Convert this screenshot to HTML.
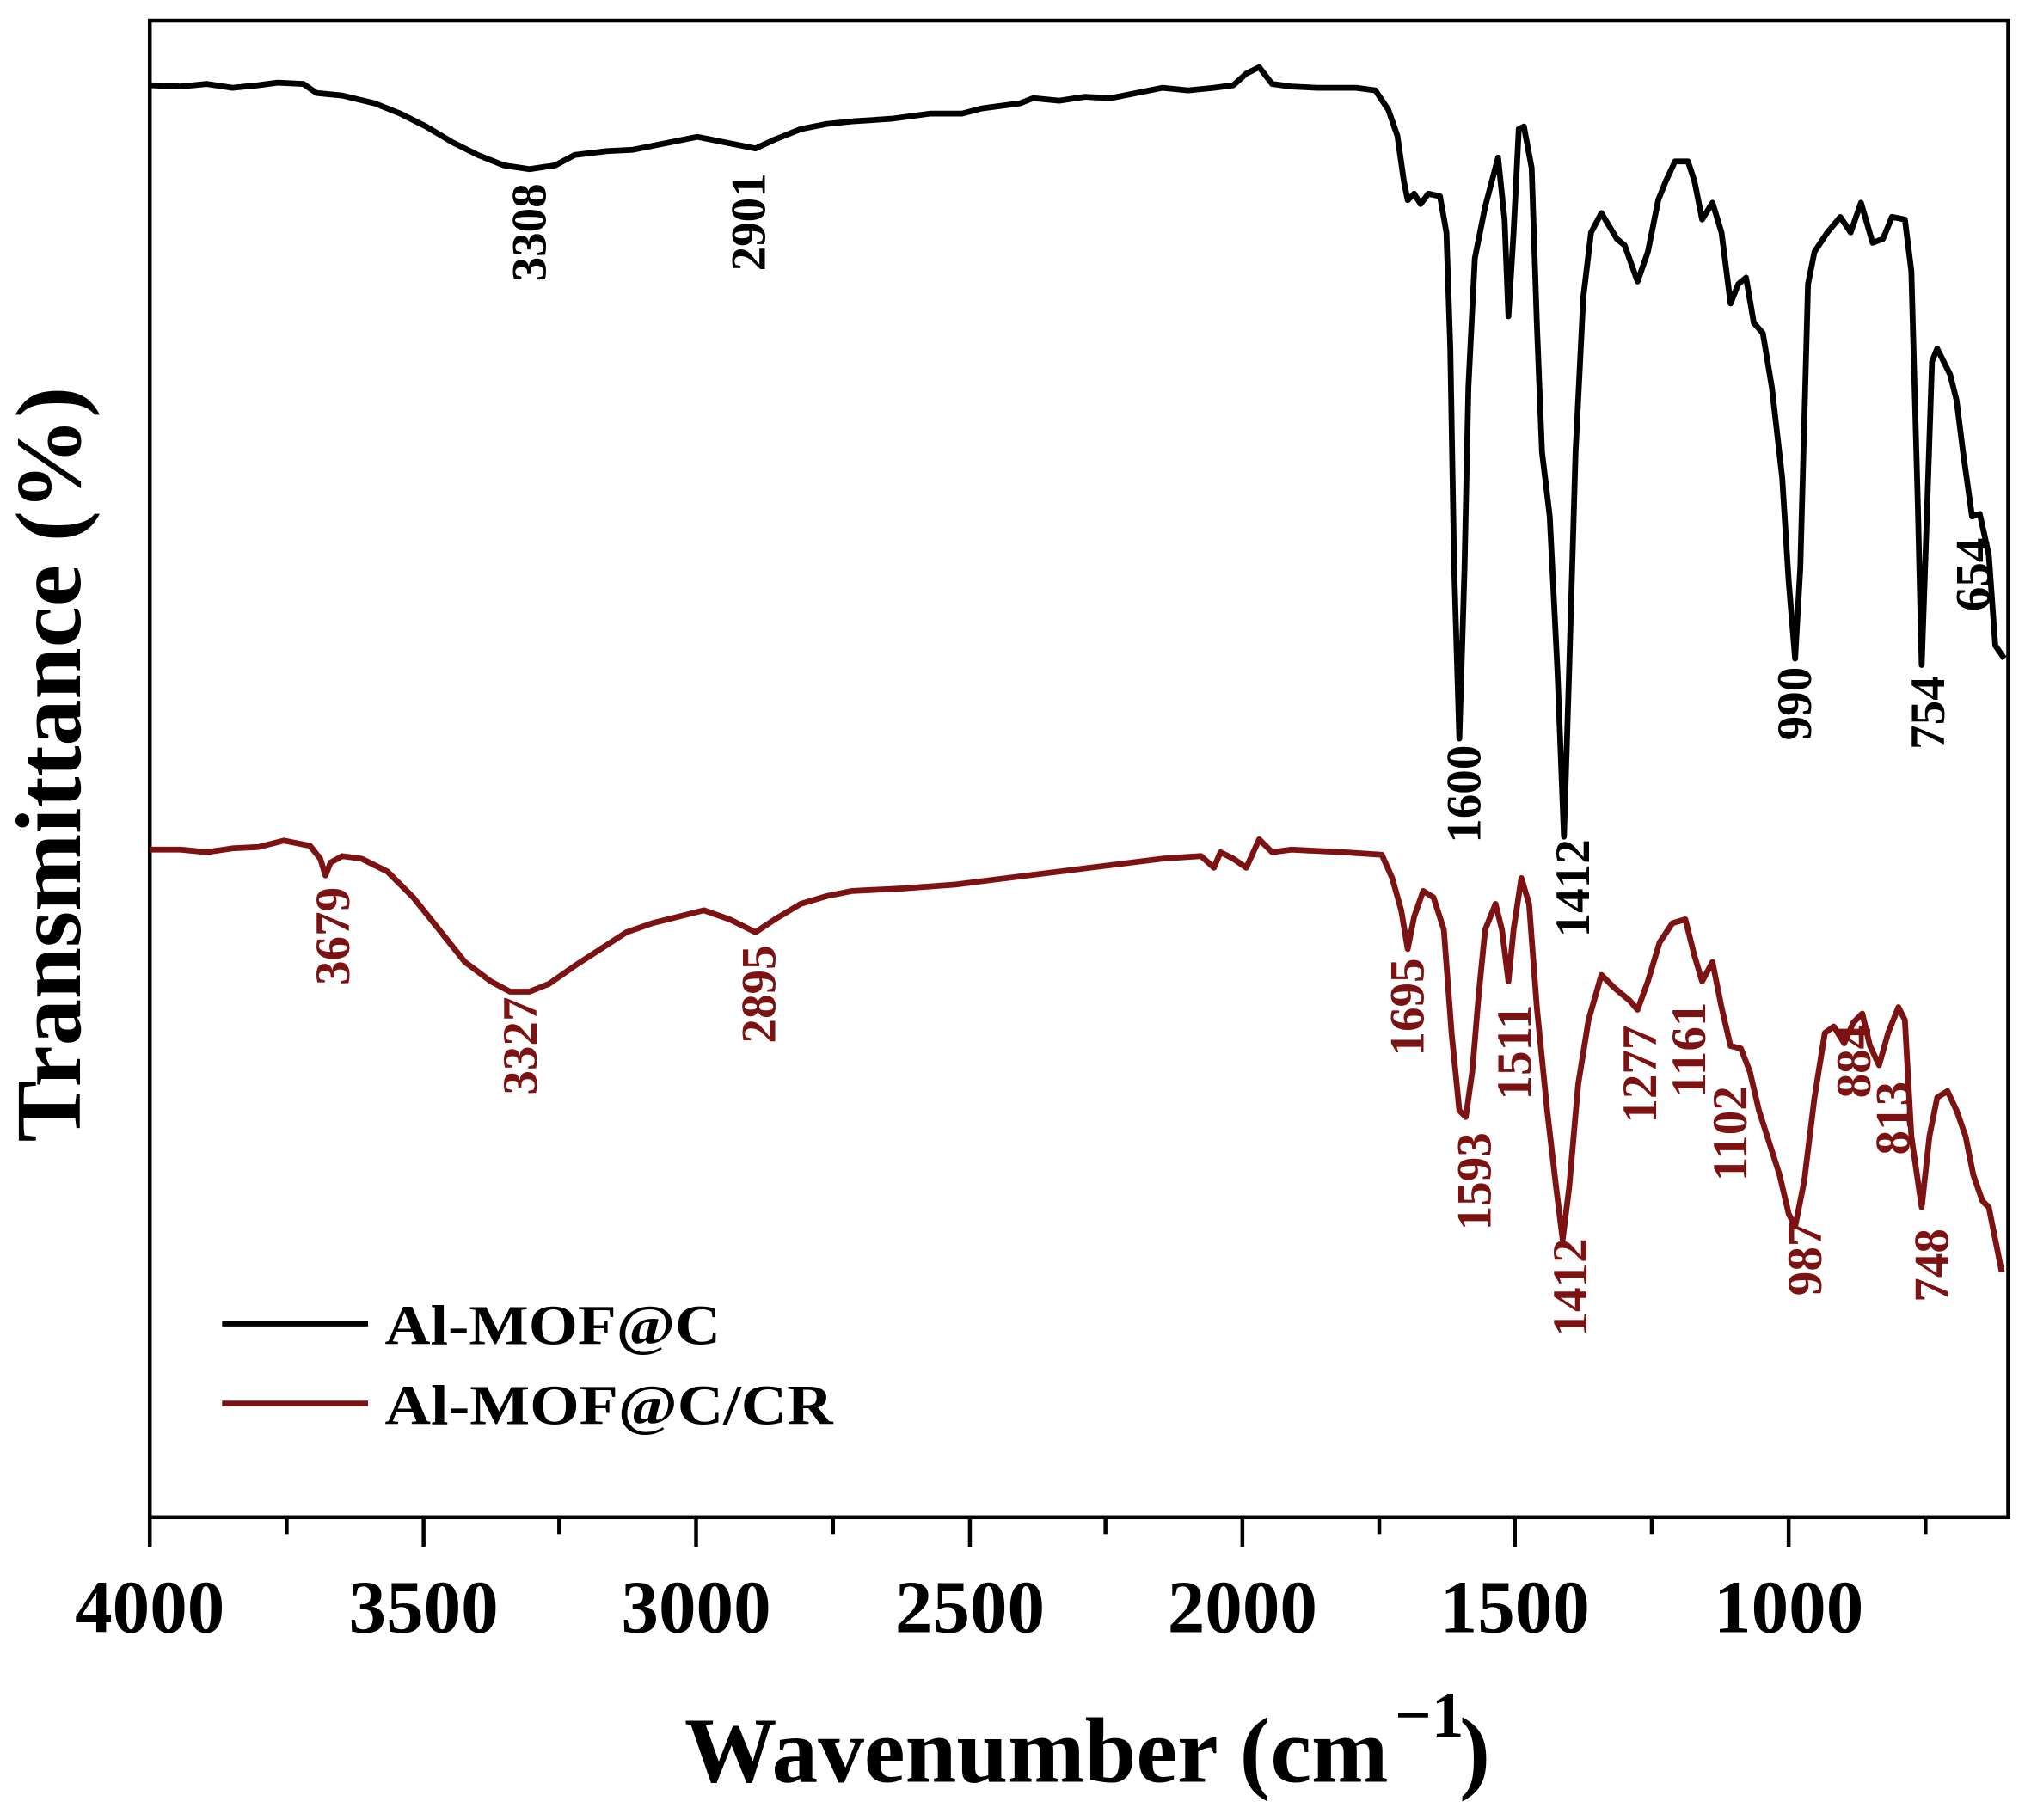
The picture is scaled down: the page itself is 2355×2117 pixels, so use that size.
<!DOCTYPE html>
<html><head><meta charset="utf-8"><style>html,body{margin:0;padding:0;background:#fff}svg{display:block}</style></head>
<body>
<svg width="2355" height="2117" viewBox="0 0 1568 1409.5" preserveAspectRatio="none" xmlns="http://www.w3.org/2000/svg" font-family="Liberation Serif, serif" font-weight="bold">
<rect x="0" y="0" width="1568" height="1409.5" fill="#fff"/>
<rect x="116" y="16" width="1439" height="1159" fill="none" stroke="#000" stroke-width="3"/>
<g stroke="#000" stroke-width="3">
<line x1="116" y1="1175" x2="116" y2="1198"/><line x1="222" y1="1175" x2="222" y2="1188"/>
<line x1="328" y1="1175" x2="328" y2="1198"/><line x1="433" y1="1175" x2="433" y2="1188"/>
<line x1="539" y1="1175" x2="539" y2="1198"/><line x1="645" y1="1175" x2="645" y2="1188"/>
<line x1="751" y1="1175" x2="751" y2="1198"/><line x1="856" y1="1175" x2="856" y2="1188"/>
<line x1="962" y1="1175" x2="962" y2="1198"/><line x1="1068" y1="1175" x2="1068" y2="1188"/>
<line x1="1173" y1="1175" x2="1173" y2="1198"/><line x1="1279" y1="1175" x2="1279" y2="1188"/>
<line x1="1385" y1="1175" x2="1385" y2="1198"/><line x1="1491" y1="1175" x2="1491" y2="1188"/>
</g>
<g font-size="58" text-anchor="middle" fill="#000">
<text x="116" y="1264">4000</text><text x="328" y="1264">3500</text><text x="539" y="1264">3000</text>
<text x="751" y="1264">2500</text><text x="962" y="1264">2000</text><text x="1173" y="1264">1500</text>
<text x="1385" y="1264">1000</text>
</g>
<text x="530" y="1380" font-size="72" textLength="545" lengthAdjust="spacingAndGlyphs">Wavenumber (cm</text>
<text x="1080" y="1345" font-size="50">−1</text>
<text x="1130" y="1380" font-size="72">)</text>
<text transform="translate(62,592) rotate(-90)" font-size="72" text-anchor="middle" textLength="585" lengthAdjust="spacingAndGlyphs">Transmittance (%)</text>
<path fill="none" stroke="#000" stroke-width="4.5" stroke-linejoin="round" d="M116,66 L140,67 160,65 180,68 200,66 215,64 235,65 245,72 265,74 290,80 310,88 330,98 350,110 370,120 390,128 410,131 430,128 445,120 470,117 490,116 510,112 540,106 560,110 585,115 600,108 620,100 640,96 660,94 690,92 720,88 745,88 760,84 790,80 800,76 820,78 840,75 860,76 880,72 900,68 920,70 940,68 955,66 965,57 975,52 985,65 1000,67 1020,68 1050,68 1065,70 1075,85 1082,105 1087,140 1090,155 1095,150 1100,158 1106,150 1115,152 1120,180 1123,270 1126,440 1130,572 1134,440 1137,300 1142,200 1150,160 1160,122 1165,170 1168,245 1172,180 1176,100 1180,98 1186,130 1190,250 1194,350 1200,400 1206,520 1211,648 1215,520 1220,350 1226,230 1232,180 1240,165 1246,175 1252,185 1258,190 1268,218 1276,195 1284,155 1290,140 1297,125 1307,125 1312,140 1318,170 1326,157 1333,180 1340,235 1346,220 1352,215 1358,250 1365,258 1372,300 1380,370 1385,450 1390,510 1394,440 1400,220 1405,195 1415,180 1425,168 1433,180 1441,157 1450,188 1458,185 1465,168 1475,170 1480,210 1485,390 1488,515 1492,400 1496,280 1500,270 1510,290 1515,310 1520,350 1527,400 1533,398 1540,430 1545,500 1552,510"/>
<path fill="none" stroke="#7d1212" stroke-width="4.5" stroke-linejoin="round" d="M116,658 L140,658 160,660 180,657 200,656 220,651 240,655 248,665 252,678 256,668 265,663 280,665 300,675 320,695 340,720 360,745 380,760 395,768 410,768 425,762 445,748 465,735 485,722 505,715 525,710 545,705 565,712 585,722 600,712 620,700 640,694 660,690 700,688 740,685 780,680 820,675 860,670 900,665 930,663 940,672 945,660 955,665 965,672 975,650 985,660 1000,658 1040,660 1070,662 1078,680 1085,705 1090,735 1095,710 1102,690 1110,695 1118,720 1124,800 1130,860 1135,865 1140,830 1145,770 1150,720 1158,700 1163,720 1168,760 1172,720 1178,680 1184,700 1190,780 1198,860 1205,920 1210,960 1215,920 1222,840 1230,790 1240,755 1250,765 1262,775 1268,782 1276,760 1285,730 1295,715 1305,712 1312,740 1318,760 1326,745 1333,780 1340,810 1348,812 1355,830 1362,860 1370,885 1378,910 1385,940 1390,950 1397,915 1405,850 1413,800 1420,795 1428,808 1435,792 1442,785 1448,810 1455,825 1462,800 1470,780 1475,790 1480,880 1488,935 1494,880 1500,850 1508,845 1515,860 1522,880 1528,910 1535,930 1540,935 1545,960 1550,985"/>
<g font-size="38" fill="#000" text-anchor="middle" dominant-baseline="central">
<text transform="translate(410,180) rotate(-90)">3308</text>
<text transform="translate(580,172) rotate(-90)">2901</text>
<text transform="translate(1134,615) rotate(-90)">1600</text>
<text transform="translate(1218,688) rotate(-90)">1412</text>
<text transform="translate(1390,545) rotate(-90)">990</text>
<text transform="translate(1493,552) rotate(-90)">754</text>
<text transform="translate(1528,445) rotate(-90)">654</text>
</g>
<g font-size="38" fill="#7d1212" text-anchor="middle" dominant-baseline="central">
<text transform="translate(258,725) rotate(-90)">3679</text>
<text transform="translate(403,810) rotate(-90)">3327</text>
<text transform="translate(588,770) rotate(-90)">2895</text>
<text transform="translate(1090,780) rotate(-90)">1695</text>
<text transform="translate(1142,915) rotate(-90)">1593</text>
<text transform="translate(1173,815) rotate(-90)">1511</text>
<text transform="translate(1216,997) rotate(-90)">1412</text>
<text transform="translate(1270,832) rotate(-90)">1277</text>
<text transform="translate(1308,813) rotate(-90)">1161</text>
<text transform="translate(1340,878) rotate(-90)">1102</text>
<text transform="translate(1398,975) rotate(-90)">987</text>
<text transform="translate(1436,822) rotate(-90)">884</text>
<text transform="translate(1466,866) rotate(-90)">813</text>
<text transform="translate(1496,980) rotate(-90)">748</text>
</g>
<line x1="172" y1="1025" x2="285" y2="1025" stroke="#000" stroke-width="4.5"/>
<text x="298" y="1041" font-size="44" textLength="260" lengthAdjust="spacingAndGlyphs">Al-MOF@C</text>
<line x1="172" y1="1087" x2="285" y2="1087" stroke="#7d1212" stroke-width="4.5"/>
<text x="298" y="1103" font-size="44" textLength="347" lengthAdjust="spacingAndGlyphs">Al-MOF@C/CR</text>
</svg>
</body></html>
